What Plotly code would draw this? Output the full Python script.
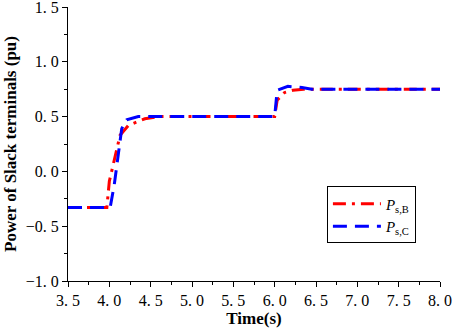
"""Power of slack terminals vs time"""

import plotly.graph_objects as go

# Ps,B (red dash-dot)
t_b = [3.5, 3.97, 4.0, 4.13, 4.23, 4.43, 4.6, 6.0, 6.03, 6.12, 6.22, 6.35, 8.0]
p_b = [-0.33, -0.33, -0.09, 0.33, 0.42, 0.48, 0.5, 0.5, 0.65, 0.72, 0.74, 0.75, 0.75]

# Ps,C (blue dash)
t_c = [3.5, 4.01, 4.06, 4.15, 4.21, 4.35, 6.0, 6.03, 6.16, 6.33, 6.45, 8.0]
p_c = [-0.33, -0.33, -0.12, 0.39, 0.47, 0.5, 0.5, 0.74, 0.776, 0.765, 0.75, 0.75]

x_ticks = [3.5, 4.0, 4.5, 5.0, 5.5, 6.0, 6.5, 7.0, 7.5, 8.0]
y_ticks = [-1.0, -0.5, 0.0, 0.5, 1.0, 1.5]


def fmt(v):
    s = f"{abs(v):.1f}".replace(".", ". ")
    return ("\u2212" + s) if v < 0 else s


fig = go.Figure()
fig.add_trace(go.Scatter(
    x=t_b, y=p_b, mode="lines", name="<i>P</i><sub>s,B</sub>",
    line=dict(color="#FF0000", width=3, dash="13px,6px,3px,6px"),
))
fig.add_trace(go.Scatter(
    x=t_c, y=p_c, mode="lines", name="<i>P</i><sub>s,C</sub>",
    line=dict(color="#0000FF", width=3, dash="14px,8px"),
))

axis_common = dict(
    showgrid=False, zeroline=False, showline=True, linecolor="black",
    linewidth=1, ticks="outside", ticklen=5, tickcolor="black",
    tickfont=dict(family="Liberation Serif", size=16, color="black"),
    minor=dict(ticks="outside", ticklen=3, tickcolor="black"),
    automargin=False, ticklabeloverflow="allow",
)

fig.update_layout(
    width=457, height=329,
    margin=dict(l=68, r=17, t=7, b=48),
    plot_bgcolor="white", paper_bgcolor="white",
    font=dict(family="Liberation Serif", color="black"),
    showlegend=True,
    legend=dict(
        x=0.696, y=0.345, xanchor="left", yanchor="top",
        bordercolor="black", borderwidth=1, bgcolor="white",
        font=dict(family="Liberation Serif", size=15, color="black"),
        tracegroupgap=0, itemwidth=48,
    ),
    xaxis=dict(
        range=[3.5, 8.0], tickvals=x_ticks, ticktext=[fmt(v) for v in x_ticks],
        title=dict(text="<b>Time(s)</b>", font=dict(size=17), standoff=2),
        **axis_common,
    ),
    yaxis=dict(
        range=[-1.0, 1.5], tickvals=y_ticks, ticktext=[fmt(v) for v in y_ticks],
        title=dict(text="<b>Power of Slack terminals (pu)</b>", font=dict(size=17), standoff=4),
        **axis_common,
    ),
)
fig.update_xaxes(minor=dict(tickvals=[3.75 + 0.5 * i for i in range(9)]))
fig.update_yaxes(minor=dict(tickvals=[-0.75 + 0.5 * i for i in range(5)]))

# the page body has a default 8px margin; drop it so the figure sits at 0,0
fig.write_html(
    "out.html",
    config={"displayModeBar": False},
    post_script="document.body.style.margin='0';",
)
